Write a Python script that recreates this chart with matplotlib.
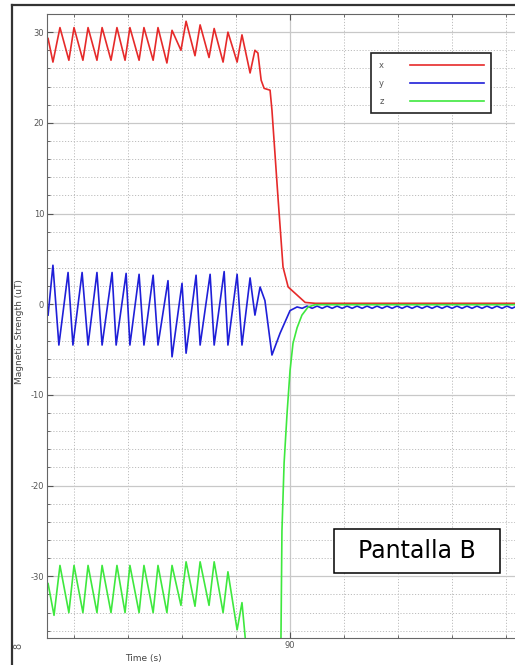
import matplotlib
matplotlib.use("Agg")
import matplotlib.pyplot as plt
from matplotlib.lines import Line2D
from matplotlib.patches import Rectangle
from matplotlib.ticker import MultipleLocator, FixedLocator

plt.rcParams["axes.unicode_minus"] = False

# magnetometer readings (time in s, field in uT)
t_x = [81.04, 81.22, 81.48, 81.81, 82.00, 82.33, 82.52, 82.85, 83.04, 83.37,
       83.59, 83.89, 84.07, 84.41, 84.59, 84.93, 85.11, 85.44, 85.63, 85.96,
       86.15, 86.48, 86.67, 87.00, 87.19, 87.52, 87.70, 88.04, 88.22, 88.52,
       88.70, 88.81, 88.93, 89.04, 89.26, 89.33, 89.56, 89.74, 89.93, 90.19,
       90.56, 90.93, 98.33]
x_val = [29.3, 26.7, 30.5, 26.9, 30.5, 26.9, 30.5, 26.9, 30.5, 26.9,
         30.5, 26.9, 30.5, 26.9, 30.5, 26.9, 30.5, 26.6, 30.2, 28.0,
         31.2, 27.4, 30.8, 27.2, 30.4, 26.7, 30.0, 26.7, 29.7, 25.5,
         28.0, 27.7, 24.7, 23.8, 23.6, 21.4, 11.5, 4.1, 1.9, 1.2,
         0.2, 0.1, 0.1]

t_y = [81.04, 81.22, 81.44, 81.78, 81.96, 82.30, 82.52, 82.85, 83.04, 83.41,
       83.56, 83.93, 84.07, 84.41, 84.59, 84.93, 85.11, 85.48, 85.63, 86.00,
       86.15, 86.52, 86.67, 87.04, 87.19, 87.56, 87.70, 88.04, 88.22, 88.52,
       88.70, 88.89, 89.07, 89.33, 89.63, 90.00, 90.26,
       90.45, 90.63, 90.82, 91.00, 91.19, 91.37, 91.56, 91.74, 91.93, 92.11,
       92.30, 92.48, 92.67, 92.85, 93.04, 93.22, 93.41, 93.59, 93.78, 93.96,
       94.15, 94.33, 94.52, 94.70, 94.89, 95.07, 95.26, 95.44, 95.63, 95.81,
       96.00, 96.18, 96.37, 96.55, 96.74, 96.92, 97.11, 97.29, 97.48, 97.66,
       97.85, 98.03, 98.22, 98.40]
y_val = [-1.2, 4.3, -4.5, 3.5, -4.5, 3.5, -4.5, 3.5, -4.5, 3.5,
         -4.5, 3.4, -4.5, 3.3, -4.5, 3.2, -4.5, 2.6, -5.8, 2.3,
         -5.4, 3.2, -4.5, 3.3, -4.5, 3.6, -4.5, 3.3, -4.5, 2.9,
         -1.2, 1.9, 0.4, -5.6, -3.2, -0.7, -0.3,
         -0.45, -0.2, -0.45, -0.2, -0.45, -0.2, -0.45, -0.2, -0.45, -0.2,
         -0.45, -0.2, -0.45, -0.2, -0.45, -0.2, -0.45, -0.2, -0.45, -0.2,
         -0.45, -0.2, -0.45, -0.2, -0.45, -0.2, -0.45, -0.2, -0.45, -0.2,
         -0.45, -0.2, -0.45, -0.2, -0.45, -0.2, -0.45, -0.2, -0.45, -0.2,
         -0.45, -0.2, -0.45, -0.2]

t_z = [81.04, 81.26, 81.48, 81.81, 82.00, 82.33, 82.52, 82.85, 83.04, 83.37,
       83.59, 83.89, 84.07, 84.41, 84.59, 84.93, 85.11, 85.44, 85.63, 85.96,
       86.15, 86.48, 86.67, 87.00, 87.19, 87.52, 87.70, 88.04, 88.22, 88.44,
       89.59, 89.66, 89.70, 89.78, 89.89, 90.00, 90.11, 90.26, 90.44, 90.67,
       90.93, 98.33]
z_val = [-30.8, -34.3, -28.8, -34.0, -28.8, -34.0, -28.8, -34.0, -28.8, -34.0,
         -28.8, -34.0, -28.8, -34.0, -28.8, -34.0, -28.8, -34.0, -28.8, -33.2,
         -28.4, -33.3, -28.4, -33.2, -28.4, -34.0, -29.5, -35.9, -32.9, -40.0,
         -60.0, -38.0, -25.0, -17.5, -12.0, -7.3, -4.3, -2.6, -1.2, -0.3,
         -0.05, -0.05]

series_names = ["x", "y", "z"]
series_colors = ["#e62a2a", "#1f1fd8", "#3ee83e"]

W, H = 515, 665
fig = plt.figure(figsize=(W / 100, H / 100), dpi=100)
ax = fig.add_axes([47 / W, 1 - 638 / H, (W - 47) / W, (638 - 14) / H])

for t, v, name, col in zip([t_x, t_y, t_z], [x_val, y_val, z_val],
                           series_names, series_colors):
    ax.plot(t, v, color=col, lw=1.2, label=name)

ax.set_xlim(81.0, 98.33)
ax.set_ylim(-36.8, 32.0)

ax.xaxis.set_major_locator(FixedLocator([80, 90, 100]))
ax.xaxis.set_minor_locator(MultipleLocator(2))
ax.yaxis.set_major_locator(MultipleLocator(10))
ax.yaxis.set_minor_locator(MultipleLocator(2))

ax.grid(True, which="major", color="#c8c8c8", lw=0.9, ls="-")
ax.grid(True, which="minor", color="#bdbdbd", lw=0.7, ls=(0, (1.2, 1.8)))
ax.set_axisbelow(True)

ax.tick_params(which="both", direction="in", top=True, right=False,
               labelsize=6, labelcolor="#555555", color="#555555")
ax.tick_params(which="major", length=4, pad=2)
ax.tick_params(which="minor", length=2)
for s in ["left", "bottom", "top"]:
    ax.spines[s].set_color("#666666")
    ax.spines[s].set_linewidth(0.8)
ax.spines["right"].set_visible(False)

leg = ax.legend(loc="upper left", bbox_to_anchor=(371 / W, 1 - 53 / H),
                bbox_transform=fig.transFigure, markerfirst=False,
                fontsize=6, handlelength=8.8, handletextpad=3.2,
                labelspacing=1.1, borderpad=0.9, borderaxespad=0,
                fancybox=False, framealpha=1)
leg.get_frame().set_edgecolor("#222222")
leg.get_frame().set_linewidth(1.2)
for txt in leg.get_texts():
    txt.set_color("#555555")

fig.text(20 / W, 1 - 332 / H, "Magnetic Strength (uT)", rotation=90,
         ha="center", va="center", fontsize=6.5, color="#444444")
fig.text(143 / W, 1 - 659 / H, "Time (s)", ha="center", va="center",
         fontsize=6.5, color="#444444")
fig.text(18 / W, 1 - 646 / H, "8", rotation=90, ha="center", va="center",
         fontsize=7, color="#555555")

# outer window frame
fig.add_artist(Line2D([12 / W, 12 / W], [0, 1 - 5 / H], transform=fig.transFigure,
                      color="#333333", lw=1.6))
fig.add_artist(Line2D([12 / W, 1], [1 - 5 / H, 1 - 5 / H], transform=fig.transFigure,
                      color="#333333", lw=1.6))

# "Pantalla B" label box
fig.add_artist(Rectangle((334 / W, 1 - 573 / H), 166 / W, 44 / H,
                         transform=fig.transFigure, facecolor="white",
                         edgecolor="black", lw=1.1))
fig.text(417 / W, 1 - 551 / H, "Pantalla B", ha="center", va="center",
         fontsize=17, color="black")

fig.savefig("out.png", dpi=100)
